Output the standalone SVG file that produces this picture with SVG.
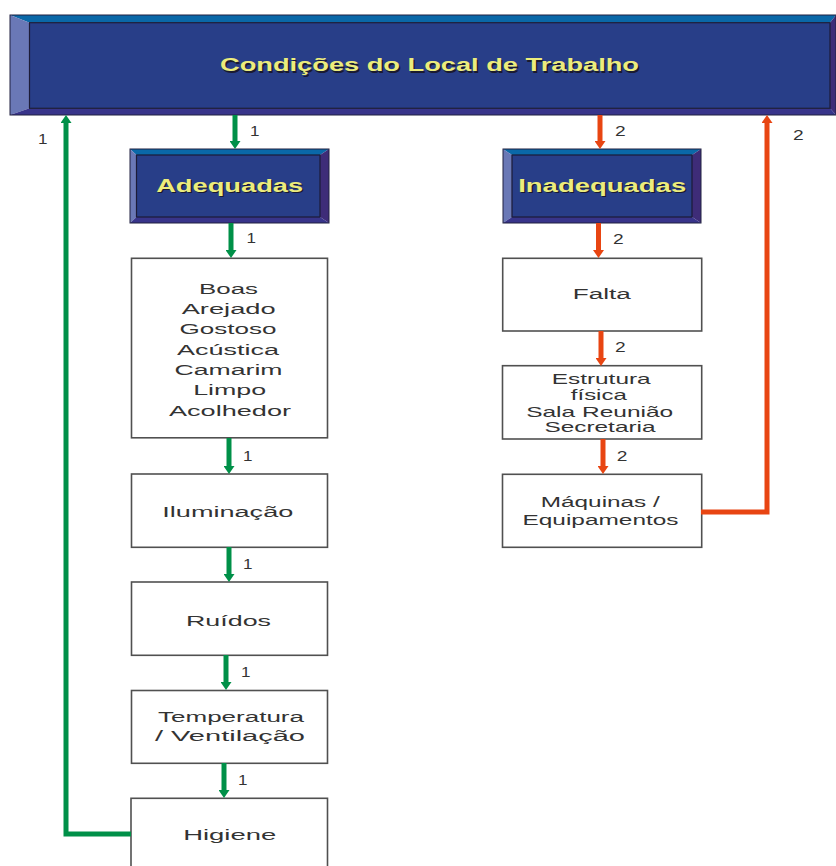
<svg xmlns="http://www.w3.org/2000/svg" width="836" height="866" viewBox="0 0 836 866">
<style>
.bt{fill:#ffffff;stroke:#505050;stroke-width:1.6}
.tx{font-family:"Liberation Sans",Arial,sans-serif;font-size:15.5px;fill:#333333;text-anchor:middle}
.sm{font-size:14.5px}
.num{font-family:"Liberation Sans",Arial,sans-serif;font-size:14.5px;fill:#333333}
.hd{font-family:"Liberation Sans",Arial,sans-serif;font-weight:bold;font-size:18px;text-anchor:middle}
.hy{fill:#ecec7c}
.hs{fill:#1a1a30}
.bvT{fill:#0a68a8}
.bvL{fill:#6a78b6}
.bvR{fill:#3e2c78}
.bvB{fill:#38348a}
.bin{fill:#283e88;stroke:#1c1c38;stroke-width:1.2}
.bout{fill:none;stroke:#202040;stroke-width:1}
.g{fill:none;stroke:#009048;stroke-width:5}
.r{fill:none;stroke:#e84512;stroke-width:5}
</style>
<defs>
<marker id="ag" markerUnits="userSpaceOnUse" markerWidth="8" markerHeight="11" refX="0" refY="5.5" orient="auto"><path d="M0,0 L8,5.5 L0,11 Z" fill="#009048"/></marker>
<marker id="ar" markerUnits="userSpaceOnUse" markerWidth="8" markerHeight="11" refX="0" refY="5.5" orient="auto"><path d="M0,0 L8,5.5 L0,11 Z" fill="#e84512"/></marker>
</defs>

<g id="header">
<polygon class="bvT" points="10,15 836,15 830,22.7 29.5,22.7"/>
<polygon class="bvL" points="10,15 29.5,22.7 29.5,108.3 10,115"/>
<polygon class="bvR" points="836,15 836,115 830,108.3 830,22.7"/>
<polygon class="bvB" points="10,115 29.5,108.3 830,108.3 836,115"/>
<rect class="bin" x="29.5" y="22.7" width="800.5" height="85.6"/>
<rect class="bout" x="10" y="15" width="826" height="100"/>
<text class="hd hs" x="431" y="72.5" textLength="419" lengthAdjust="spacingAndGlyphs">Condições do Local de Trabalho</text>
<text class="hd hy" x="429.5" y="71" textLength="419" lengthAdjust="spacingAndGlyphs">Condições do Local de Trabalho</text>
</g>

<g id="adequadas">
<polygon class="bvT" points="130,149 329,149 320,155 136.5,155"/>
<polygon class="bvL" points="130,149 136.5,155 136.5,217 130,223"/>
<polygon class="bvR" points="329,149 329,223 320,217 320,155"/>
<polygon class="bvB" points="130,223 136.5,217 320,217 329,223"/>
<rect class="bin" x="136.5" y="155" width="183.5" height="62"/>
<rect class="bout" x="130" y="149" width="199" height="74"/>
<text class="hd hs" x="231" y="193" textLength="147" lengthAdjust="spacingAndGlyphs">Adequadas</text>
<text class="hd hy" x="229.7" y="191.7" textLength="147" lengthAdjust="spacingAndGlyphs">Adequadas</text>
</g>

<g id="inadequadas">
<polygon class="bvT" points="503,149 701,149 692,155 512,155"/>
<polygon class="bvL" points="503,149 512,155 512,217 503,223"/>
<polygon class="bvR" points="701,149 701,223 692,217 692,155"/>
<polygon class="bvB" points="503,223 512,217 692,217 701,223"/>
<rect class="bin" x="512" y="155" width="180" height="62"/>
<rect class="bout" x="503" y="149" width="198" height="74"/>
<text class="hd hs" x="603.5" y="193" textLength="168" lengthAdjust="spacingAndGlyphs">Inadequadas</text>
<text class="hd hy" x="602.2" y="191.7" textLength="168" lengthAdjust="spacingAndGlyphs">Inadequadas</text>
</g>

<g id="boas">
<rect class="bt" x="131.5" y="258.3" width="196" height="179.5"/>
<text class="tx" x="228.5" y="294.3" textLength="59" lengthAdjust="spacingAndGlyphs">Boas</text>
<text class="tx" x="228.7" y="314.3" textLength="94" lengthAdjust="spacingAndGlyphs">Arejado</text>
<text class="tx" x="228" y="334" textLength="97" lengthAdjust="spacingAndGlyphs">Gostoso</text>
<text class="tx" x="228" y="354.5" textLength="102" lengthAdjust="spacingAndGlyphs">Acústica</text>
<text class="tx" x="228.5" y="374.5" textLength="108" lengthAdjust="spacingAndGlyphs">Camarim</text>
<text class="tx" x="229.7" y="395" textLength="73" lengthAdjust="spacingAndGlyphs">Limpo</text>
<text class="tx" x="230" y="415.7" textLength="122" lengthAdjust="spacingAndGlyphs">Acolhedor</text>
</g>

<g id="iluminacao">
<rect class="bt" x="131.5" y="474" width="196" height="73.3"/>
<text class="tx" x="227.8" y="516.7" textLength="131" lengthAdjust="spacingAndGlyphs">Iluminação</text>
</g>

<g id="ruidos">
<rect class="bt" x="131.5" y="582" width="196" height="73.3"/>
<text class="tx" x="228.5" y="625.5" textLength="85" lengthAdjust="spacingAndGlyphs">Ruídos</text>
</g>

<g id="temperatura">
<rect class="bt" x="131.5" y="690.5" width="196" height="72.8"/>
<text class="tx" x="231" y="721.7" textLength="146" lengthAdjust="spacingAndGlyphs">Temperatura</text>
<text class="tx" x="230" y="741" textLength="150" lengthAdjust="spacingAndGlyphs">/ Ventilação</text>
</g>

<g id="higiene">
<rect class="bt" x="131" y="798.3" width="196.5" height="80"/>
<text class="tx" x="229.7" y="840" textLength="93" lengthAdjust="spacingAndGlyphs">Higiene</text>
</g>

<g id="falta">
<rect class="bt" x="502.7" y="258.3" width="199" height="72.7"/>
<text class="tx" x="601.8" y="299.3" textLength="58" lengthAdjust="spacingAndGlyphs">Falta</text>
</g>

<g id="estrutura">
<rect class="bt" x="502.5" y="365.7" width="199.2" height="73.3"/>
<text class="tx sm" x="601.2" y="384" textLength="99" lengthAdjust="spacingAndGlyphs">Estrutura</text>
<text class="tx sm" x="598.8" y="399.5" textLength="56" lengthAdjust="spacingAndGlyphs">física</text>
<text class="tx sm" x="599.7" y="416.7" textLength="147" lengthAdjust="spacingAndGlyphs">Sala Reunião</text>
<text class="tx sm" x="600" y="432.3" textLength="111" lengthAdjust="spacingAndGlyphs">Secretaria</text>
</g>

<g id="maquinas">
<rect class="bt" x="502.5" y="474.3" width="199.2" height="73"/>
<text class="tx" x="600.3" y="506.7" textLength="119" lengthAdjust="spacingAndGlyphs">Máquinas /</text>
<text class="tx" x="600.5" y="525" textLength="156" lengthAdjust="spacingAndGlyphs">Equipamentos</text>
</g>

<g id="connectors">
<path class="g" d="M235,115 V141" marker-end="url(#ag)"/>
<path class="g" d="M231,223 V250" marker-end="url(#ag)"/>
<path class="g" d="M229,438 V466" marker-end="url(#ag)"/>
<path class="g" d="M229,547 V574" marker-end="url(#ag)"/>
<path class="g" d="M226,655 V682" marker-end="url(#ag)"/>
<path class="g" d="M224,763 V790" marker-end="url(#ag)"/>
<path class="g" d="M131,834 H66 V123" marker-end="url(#ag)"/>
<path class="r" d="M600,115 V141" marker-end="url(#ar)"/>
<path class="r" d="M598.5,223 V250" marker-end="url(#ar)"/>
<path class="r" d="M601,331 V358" marker-end="url(#ar)"/>
<path class="r" d="M603,439 V466" marker-end="url(#ar)"/>
<path class="r" d="M701,512 H767 V123" marker-end="url(#ar)"/>
<text class="num" x="38" y="144" textLength="9.5" lengthAdjust="spacingAndGlyphs">1</text>
<text class="num" x="250" y="136" textLength="9.5" lengthAdjust="spacingAndGlyphs">1</text>
<text class="num" x="246.5" y="243.3" textLength="9.5" lengthAdjust="spacingAndGlyphs">1</text>
<text class="num" x="243" y="461" textLength="9.5" lengthAdjust="spacingAndGlyphs">1</text>
<text class="num" x="243" y="569" textLength="9.5" lengthAdjust="spacingAndGlyphs">1</text>
<text class="num" x="241" y="677" textLength="9.5" lengthAdjust="spacingAndGlyphs">1</text>
<text class="num" x="238" y="785" textLength="9.5" lengthAdjust="spacingAndGlyphs">1</text>
<text class="num" x="615" y="136" textLength="10.7" lengthAdjust="spacingAndGlyphs">2</text>
<text class="num" x="793" y="140" textLength="10.7" lengthAdjust="spacingAndGlyphs">2</text>
<text class="num" x="613" y="244" textLength="10.7" lengthAdjust="spacingAndGlyphs">2</text>
<text class="num" x="615" y="352" textLength="10.7" lengthAdjust="spacingAndGlyphs">2</text>
<text class="num" x="616.7" y="461" textLength="10.7" lengthAdjust="spacingAndGlyphs">2</text>
</g>
</svg>
